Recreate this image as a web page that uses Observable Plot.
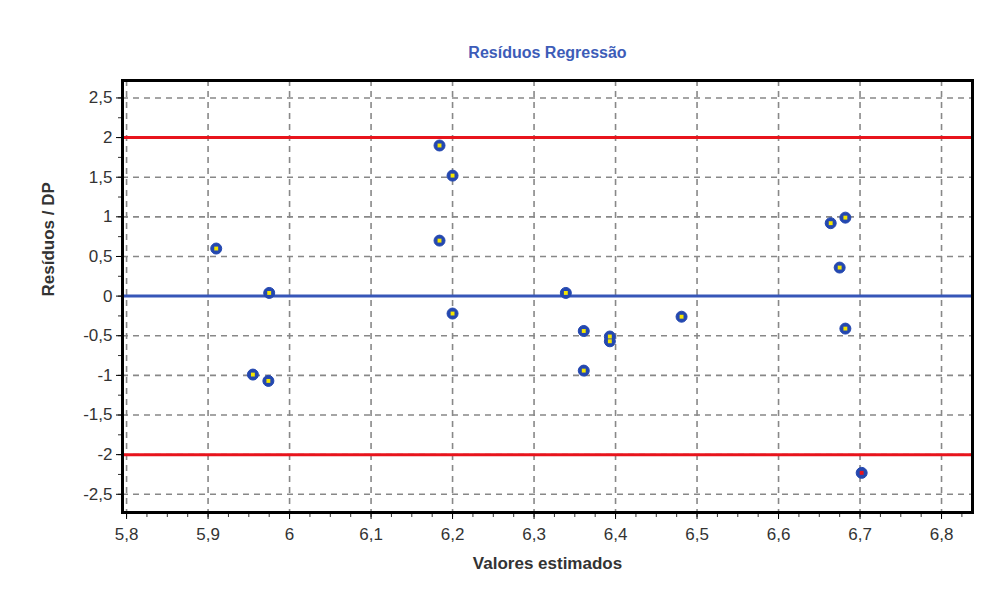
<!DOCTYPE html>
<html><head><meta charset="utf-8">
<script src="https://cdn.jsdelivr.net/npm/d3@7"></script>
<script src="https://cdn.jsdelivr.net/npm/@observablehq/plot@0.6"></script>
<style>body{margin:0;background:#fff}</style>
</head><body><div id="chart"></div>
<script>
const estimados = [5.910, 5.975, 5.955, 5.974, 6.184, 6.200, 6.184, 6.200, 6.339, 6.361, 6.361, 6.393, 6.393, 6.481, 6.664, 6.682, 6.675, 6.682, 6.702];
const residuos  = [0.60, 0.04, -0.99, -1.07, 1.90, 1.52, 0.70, -0.22, 0.04, -0.44, -0.94, -0.51, -0.57, -0.26, 0.92, 0.99, 0.36, -0.41, -2.23];
const destaque  = [false,false,false,false,false,false,false,false,false,false,false,false,false,false,false,false,false,false,true];
const xTicks = [5.8, 5.9, 6.0, 6.1, 6.2, 6.3, 6.4, 6.5, 6.6, 6.7, 6.8];
const yTicks = [-2.5, -2, -1.5, -1, -0.5, 0, 0.5, 1, 1.5, 2, 2.5];
const limites = [-2, 2];
const centro = [0];
const xDomain = [5.795, 6.838];
const yDomain = [-2.73, 2.72];

const pts = estimados.map((x, i) => ({x, y: residuos[i], d: destaque[i]}));
const fmt = d => String(+d.toFixed(2)).replace(".", ",");
const xMinor = d3.range(0, 42).map(i => +(5.8 + i * 0.025).toFixed(3)).filter(v => v <= xDomain[1]);
const yMinor = d3.range(-10, 11).map(i => +(i * 0.25).toFixed(2));

const plot = Plot.plot({
  width: 991, height: 602,
  marginLeft: 122, marginRight: 19, marginTop: 80, marginBottom: 90,
  style: {fontFamily: "'Liberation Sans', Arial, sans-serif", background: "#fff"},
  x: {domain: xDomain},
  y: {domain: yDomain},
  marks: [
    Plot.ruleX(xTicks, {stroke: "#888", strokeWidth: 1.6, strokeDasharray: "6,5"}),
    Plot.ruleY(yTicks, {stroke: "#888", strokeWidth: 1.6, strokeDasharray: "6,5"}),
    Plot.ruleY(limites, {stroke: "#e8141c", strokeWidth: 3}),
    Plot.ruleY(centro, {stroke: "#3656b8", strokeWidth: 3}),
    Plot.axisX({ticks: xMinor, tickSize: 5, tickFormat: null, text: null, stroke: "#333", label: null}),
    Plot.axisX({ticks: xTicks, tickSize: 7, tickFormat: fmt, fontSize: 17, fill: "#333", tickPadding: 8, label: null}),
    Plot.axisY({ticks: yMinor, tickSize: 4, text: null, stroke: "#333", label: null}),
    Plot.axisY({ticks: yTicks, tickSize: 6, tickFormat: fmt, fontSize: 17, fill: "#333", tickPadding: 4, label: null}),
    Plot.dot(pts, {x: "x", y: "y", r: 5.5, fill: "#2448b0", stroke: "#2448b0", strokeWidth: 1}),
    Plot.dot(pts, {x: "x", y: "y", r: 2.2, symbol: "square", fill: d => d.d ? "#e8141c" : "#f5e600"}),
    Plot.frame({stroke: "#000", strokeWidth: 3}),
    Plot.text(["Resíduos Regressão"], {frameAnchor: "top", dy: -34, fontSize: 16, fontWeight: "bold", fill: "#3d5cb8"}),
    Plot.text(["Valores estimados"], {frameAnchor: "bottom", dy: 56, fontSize: 17, fontWeight: "bold", fill: "#333"}),
    Plot.text(["Resíduos / DP"], {frameAnchor: "left", dx: -74, rotate: -90, fontSize: 17, fontWeight: "bold", fill: "#333"})
  ]
});
document.getElementById("chart").append(plot);
</script>
</body></html>
